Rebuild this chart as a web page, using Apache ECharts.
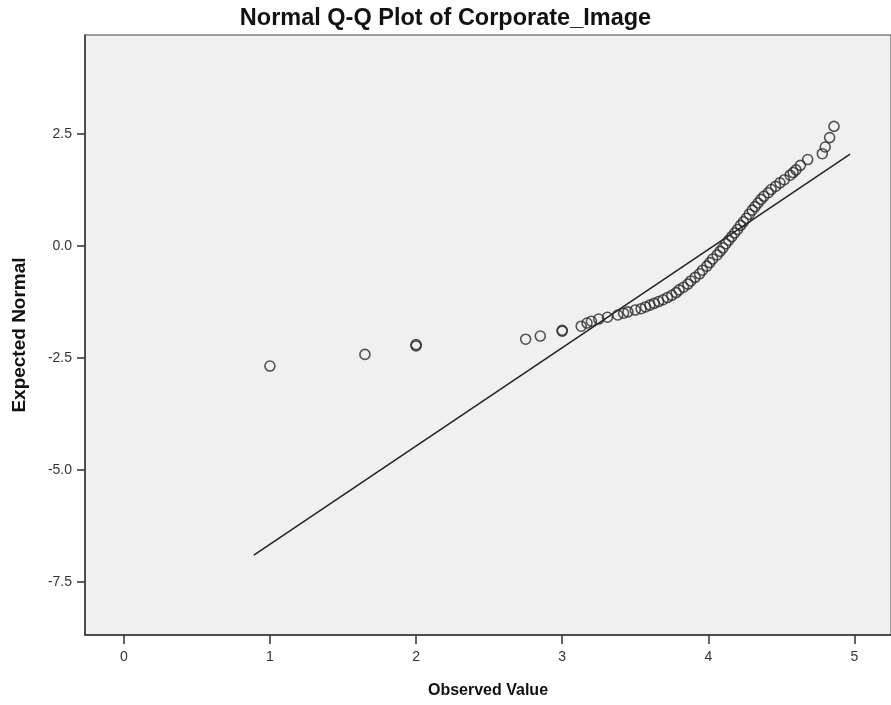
<!DOCTYPE html>
<html>
<head>
<meta charset="utf-8">
<style>
html,body{margin:0;padding:0;background:#fff;}
#chart{width:891px;height:705px;}
</style>
<script src="https://cdn.jsdelivr.net/npm/echarts@6/dist/echarts.min.js"></script>
</head>
<body>
<div id="chart"></div>
<script>
const chartTitle = 'Normal Q-Q Plot of Corporate_Image';
const xAxisName = 'Observed Value';
const yAxisName = 'Expected Normal';

const observed = [
  1.00, 1.65, 2.00, 2.00, 2.75, 2.85, 3.00, 3.00,
  3.13, 3.17, 3.20, 3.25, 3.31, 3.38, 3.42, 3.45, 3.50, 3.54, 3.57, 3.60,
  3.63, 3.66, 3.69, 3.72, 3.75, 3.78, 3.80, 3.83, 3.86, 3.88, 3.91, 3.94,
  3.96, 3.99, 4.01, 4.03, 4.06, 4.08, 4.10, 4.12, 4.14, 4.16, 4.18, 4.20,
  4.22, 4.24, 4.26, 4.28, 4.30, 4.32, 4.34, 4.36, 4.38, 4.41, 4.43, 4.46,
  4.49, 4.52,
  4.56, 4.58, 4.60, 4.63, 4.68, 4.78, 4.80, 4.83, 4.86
];
const expected = [
  -2.68, -2.42, -2.20, -2.23, -2.08, -2.01, -1.90, -1.88,
  -1.79, -1.72, -1.68, -1.63, -1.59, -1.54, -1.50, -1.47, -1.43, -1.40, -1.36, -1.32,
  -1.28, -1.24, -1.20, -1.15, -1.10, -1.04, -0.98, -0.92, -0.85, -0.78, -0.70, -0.62,
  -0.54, -0.45, -0.37, -0.29, -0.20, -0.12, -0.04, 0.05, 0.13, 0.21, 0.29, 0.37,
  0.46, 0.54, 0.62, 0.71, 0.80, 0.88, 0.96, 1.04, 1.11, 1.19, 1.26, 1.33,
  1.41, 1.48,
  1.58, 1.64, 1.70, 1.80, 1.93, 2.06, 2.21, 2.42, 2.67
];
const refLineObserved = [0.89, 4.97];
const refLineExpected = [-6.90, 2.05];

const xTicks = [0, 1, 2, 3, 4, 5];
const yTicks = [2.5, 0, -2.5, -5, -7.5];

const font = '"Liberation Sans", Arial, sans-serif';

const chart = echarts.init(document.getElementById('chart'), null, {renderer: 'canvas'});
chart.setOption({
  animation: false,
  backgroundColor: '#ffffff',
  title: {
    text: chartTitle,
    left: 'center',
    top: 2,
    textStyle: {fontFamily: font, fontSize: 23.5, fontWeight: 'bold', color: '#111'}
  },
  grid: {
    left: 85, top: 35, right: -4.75, bottom: 70,
    show: true, backgroundColor: '#f0f0f0', borderColor: '#444', borderWidth: 1,
    containLabel: false
  },
  xAxis: {
    type: 'value',
    min: -0.2653, max: 5.25,
    name: xAxisName,
    nameLocation: 'middle',
    nameGap: 48,
    nameTextStyle: {fontFamily: font, fontSize: 16, fontWeight: 'bold', color: '#111'},
    axisLine: {show: true, onZero: false, lineStyle: {color: '#333', width: 1.5}},
    axisTick: {show: true, inside: false, length: 9, customValues: xTicks, lineStyle: {color: '#333', width: 1.5}},
    axisLabel: {show: true, customValues: xTicks, margin: 15, fontFamily: font, fontSize: 14, color: '#333',
      formatter: v => String(Math.round(v))},
    splitLine: {show: false}
  },
  yAxis: {
    type: 'value',
    min: -8.683, max: 4.71,
    name: yAxisName,
    nameLocation: 'middle',
    nameGap: 56,
    nameRotate: 90,
    nameTextStyle: {fontFamily: font, fontSize: 19, fontWeight: 'bold', color: '#111'},
    axisLine: {show: true, onZero: false, lineStyle: {color: '#333', width: 1.5}},
    axisTick: {show: true, inside: false, length: 8, customValues: yTicks, lineStyle: {color: '#333', width: 1.5}},
    axisLabel: {show: true, customValues: yTicks, margin: 13, fontFamily: font, fontSize: 14, color: '#333',
      formatter: v => v.toFixed(1)},
    splitLine: {show: false}
  },
  series: [
    {
      type: 'line',
      data: refLineObserved.map((x, i) => [x, refLineExpected[i]]),
      symbol: 'none',
      lineStyle: {color: '#222', width: 1.5},
      silent: true,
      z: 2
    },
    {
      type: 'scatter',
      data: observed.map((x, i) => [x, expected[i]]),
      symbol: 'circle',
      symbolSize: 10,
      itemStyle: {color: 'rgba(0,0,0,0)', borderColor: '#2b2b2b', borderWidth: 1.6},
      z: 3
    }
  ]
});
</script>
</body>
</html>
